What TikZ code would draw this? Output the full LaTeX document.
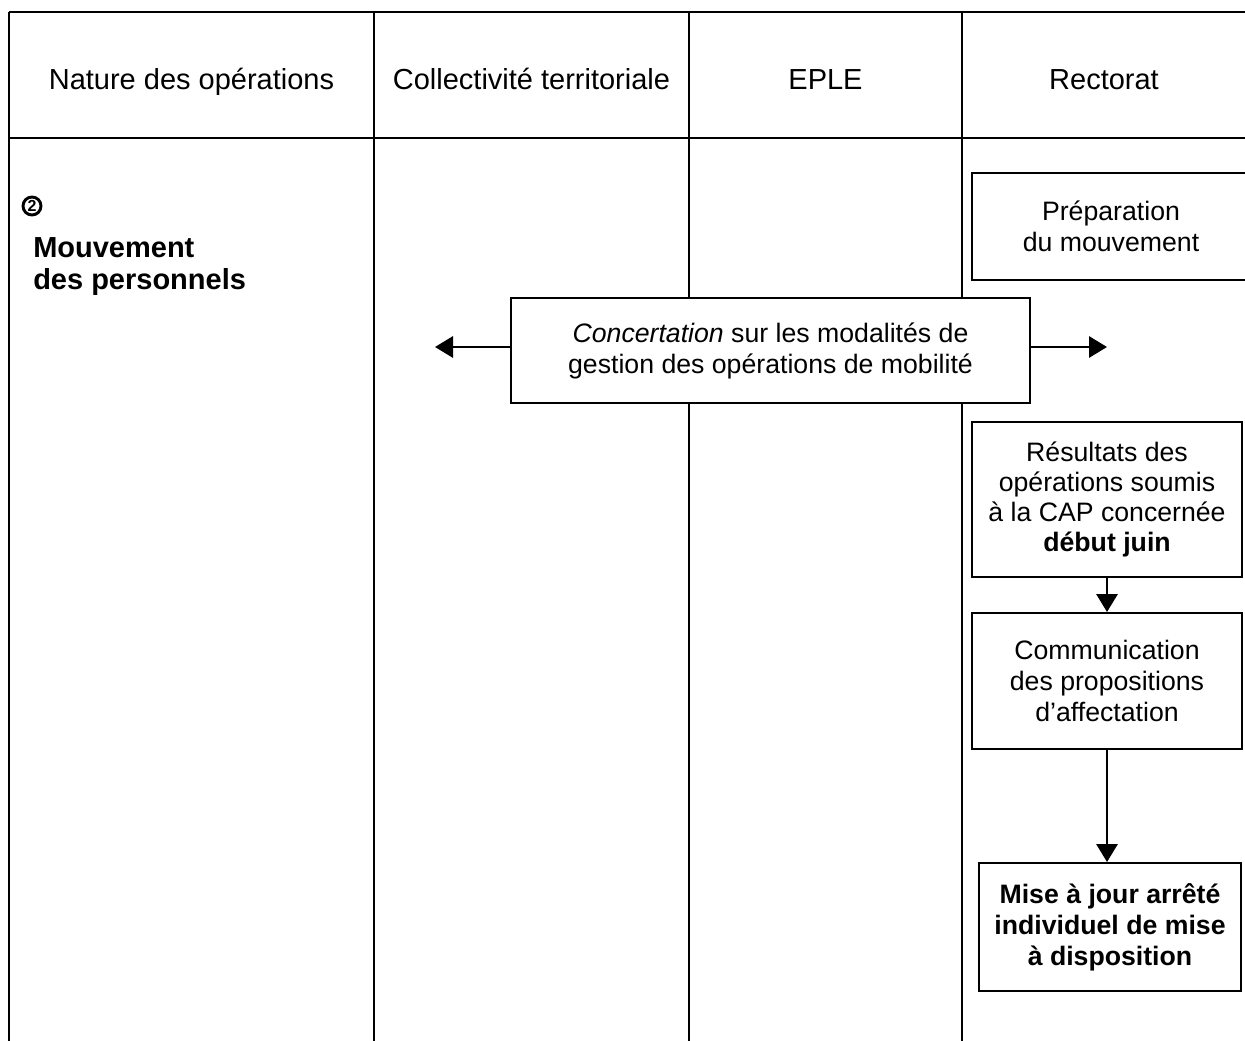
\documentclass[tikz,border=0pt]{standalone}
\usepackage{fontspec}
\setmainfont{Liberation Sans}
\usetikzlibrary{arrows.meta}
\begin{document}
\begin{tikzpicture}[x=0.75pt,y=-0.75pt,
  grid/.style={line width=2pt},
  box/.style={draw, line width=1.5pt, fill=white, align=center, inner sep=0pt,
     font=\fontsize{20}{23.25}\selectfont},
  hdr/.style={font=\fontsize{21.75}{25}\selectfont, inner sep=0pt, anchor=base},
  arr/.style={line width=1.5pt, -{Triangle[length=13.5pt,width=16pt]}}]
\useasboundingbox (0,0) rectangle (1245,1041);
% table
\draw[grid] (9,12) -- (1250,12);
\draw[grid] (9,138) -- (1250,138);
\draw[grid] (9,12) -- (9,1045);
\draw[grid] (374,12) -- (374,1045);
\draw[grid] (689,12) -- (689,1045);
\draw[grid] (962,12) -- (962,1045);
% headers
\node[hdr] (h1) at (191.5,90) {Nature des opérations};
\node[hdr] (h2) at (531.5,90) {Collectivité territoriale};
\node[hdr] (h3) at (825.5,90) {EPLE};
\node[hdr] (h4) at (1104,90) {Rectorat};
% left column
\node[draw, circle, line width=2.2pt, minimum size=13.5pt, inner sep=0pt,
  font=\fontsize{12}{12}\selectfont\bfseries] (num) at (32,206) {2};
\node[anchor=north west, inner sep=0pt, align=left,
  font=\fontsize{21.75}{24}\selectfont\bfseries] (mvt) at (33,237) {Mouvement\\des personnels};
% boxes
\node[box, minimum width=208.5pt, minimum height=80.25pt] (prep) at (1111,226.5)
  {Préparation\\du mouvement};
\node[box, minimum width=389.25pt, minimum height=78.75pt] (conc) at (770.5,350.5)
  {\textit{Concertation} sur les modalités de\\gestion des opérations de mobilité};
\node[box, minimum width=202.5pt, minimum height=116.25pt,
  font=\fontsize{20}{22.5}\selectfont] (res) at (1107,499.5)
  {Résultats des\\opérations soumis\\à la CAP concernée\\\textbf{début juin}};
\node[box, minimum width=202.5pt, minimum height=102pt] (comm) at (1107,681)
  {Communication\\des propositions\\d’affectation};
\node[box, minimum width=196.5pt, minimum height=96pt, font=\fontsize{20}{23.25}\selectfont\bfseries] (mise) at (1110,927)
  {Mise à jour arrêté\\individuel de mise\\à disposition};
% arrows
\coordinate (cl) at (435,347);
\coordinate (cr) at (1107,347);
\draw[arr] (conc.west |- cl) -- (cl);
\draw[arr] (conc.east |- cr) -- (cr);
\draw[arr] (res.south) -- (comm.north);
\draw[arr] (comm.south) -- (comm.south |- mise.north);
\end{tikzpicture}
\end{document}
